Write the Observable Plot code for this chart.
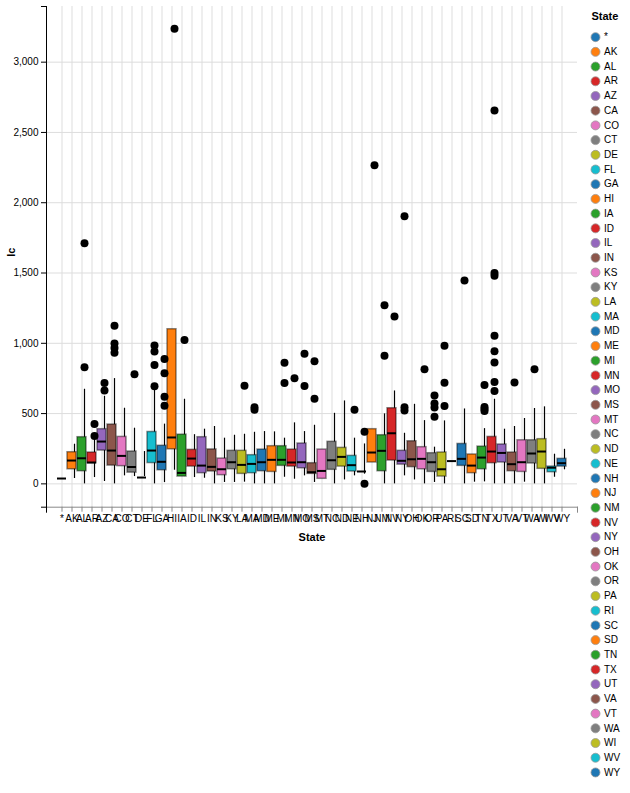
<!DOCTYPE html>
<html><head><meta charset="utf-8">
<script src="https://cdn.jsdelivr.net/npm/d3@7"></script>
<script src="https://cdn.jsdelivr.net/npm/@observablehq/plot@0.6"></script>
<style>
body{margin:0;background:#fff;}
#wrap{position:relative;width:630px;height:793px;font-family:"Liberation Sans",Arial,sans-serif;}
#wrap svg{position:absolute;top:0;}
</style></head><body><div id="wrap"></div>
<script>
const states = ["*","AK","AL","AR","AZ","CA","CO","CT","DE","FL","GA","HI","IA","ID","IL","IN","KS","KY","LA","MA","MD","ME","MI","MN","MO","MS","MT","NC","ND","NE","NH","NJ","NM","NV","NY","OH","OK","OR","PA","RI","SC","SD","TN","TX","UT","VA","VT","WA","WI","WV","WY"];
const q1     = [38,104,90,147,237,130,126,80,45,148,97,246,52,123,76,88,62,104,71,76,90,85,128,123,111,71,36,100,123,88,88,152,90,166,137,119,104,85,52,162,128,76,104,147,152,90,85,145,107,83,123];
const median = [38,166,182,152,301,237,199,120,45,237,157,330,78,180,130,121,104,154,135,142,154,171,171,152,154,83,92,168,192,133,88,223,235,360,164,175,178,154,104,162,178,130,187,230,220,140,154,216,230,115,147];
const q3     = [38,225,332,223,389,422,334,230,45,369,271,1100,350,242,332,245,180,235,235,204,244,268,268,244,287,147,244,299,256,199,88,389,346,538,235,303,261,218,223,162,284,209,265,334,280,223,310,310,318,123,178];
const whiskerLow  = [38,0,45,17,0,57,52,52,0,9,97,52,45,40,0,10,10,12,0,0,0,47,33,57,10,52,0,28,57,69,88,0,0,57,28,0,10,0,104,null,0,12,14,0,0,0,12,0,0,47,100];
const whiskerHigh = [282,673,332,623,749,538,396,230,673,425,271,602,350,389,408,325,346,353,367,372,370,325,434,372,417,199,502,590,325,284,88,498,661,360,566,450,261,448,104,null,533,209,393,602,389,408,465,536,548,211,246];
const outlierState = ["AK","AK","AL","AL","AR","AR","AZ","AZ","AZ","AZ","CO","DE","DE","DE","DE","FL","FL","FL","FL","GA","HI","KY","LA","LA","ME","ME","MI","MN","MN","MO","MO","ND","NE","NE","NH","NJ","NJ","NM","NV","NV","NV","OH","OK","OK","OK","OK","OR","OR","OR","SC","TN","TN","TN","TN","TX","TX","TX","TX","TX","TX","TX","TX","VA","WA"];
const outlierValue = [830,1712,426,340,717,665,1124,998,966,933,780,985,942,846,695,888,787,620,555,3237,1024,698,545,527,862,718,752,925,696,873,606,528,370,0,2266,1270,912,1190,1903,545,522,816,629,572,544,477,983,719,554,1447,703,547,533,518,661,725,863,944,1054,1480,1500,2656,721,815];
const yTicks = [0,500,1000,1500,2000,2500,3000];
const yDomain = [-166,3396];

const boxes = states.map((s,i)=>({state:s,q1:q1[i],median:median[i],q3:q3[i]}));
const whiskers = states.map((s,i)=>({state:s,lo:whiskerLow[i],hi:whiskerHigh[i]})).filter(d=>d.lo!=null);
const outliers = outlierState.map((s,i)=>({state:s,value:outlierValue[i]}));

const FONT = '"Liberation Sans",Arial,sans-serif';
const W=630,H=560;
const base = {width:W,height:H,marginLeft:46,marginRight:53,marginTop:6,marginBottom:53.3,
  style:{background:"transparent",fontFamily:FONT,fontSize:"10px",overflow:"visible"}};
const yScale = {domain:yDomain};
const xBand = {type:"band",domain:states,paddingInner:0.15,paddingOuter:1.104,align:0.5};
const xPoint = {type:"point",domain:whiskers.map(d=>d.state),padding:1.09,align:0.695};
const color = {type:"ordinal",domain:states,range:d3.schemeCategory10};
const fmt = d3.format(",");
const wrap = document.getElementById("wrap");
const add = (svg,left=0)=>{svg.style.left=left+"px";wrap.appendChild(svg);};

// layer 1: grid & axes
add(Plot.plot({...base,
  x:{...xBand},
  y:{...yScale},
  marks:[
    Plot.gridX({stroke:"#ddd",strokeOpacity:1}),
    Plot.gridY(yTicks,{stroke:"#ddd",strokeOpacity:1}),
    Plot.axisY([...yTicks,...yDomain],{tickSize:5,tickPadding:3,tickFormat:d=>yTicks.includes(d)?fmt(d):"",label:null,fill:"#000"}),
    Plot.axisX({tickSize:5,tickPadding:3,label:null,stroke:"#888",fill:"#000"}),
    Plot.frame({anchor:"bottom",stroke:"#888"}),
    Plot.frame({anchor:"right",stroke:"#888",insetTop:H-6-53.3,insetBottom:-5}),
    Plot.frame({anchor:"left",stroke:"#000",insetBottom:-5}),
    Plot.text(["lc"],{frameAnchor:"left",dx:-35,rotate:-90,fontWeight:"bold",fontSize:11}),
    Plot.text(["State"],{frameAnchor:"bottom",dy:33.5,fontWeight:"bold",fontSize:11})
  ]}));

// layer 2: whiskers
add(Plot.plot({...base,
  x:{...xPoint,axis:null},
  y:{...yScale,axis:null},
  marks:[Plot.ruleX(whiskers,{x:"state",y1:"lo",y2:"hi",stroke:"#000",strokeWidth:1.2})]}));

// layer 3: boxes & medians
add(Plot.plot({...base,
  x:{...xBand,axis:null},
  y:{...yScale,axis:null},
  color,
  marks:[
    Plot.barY(boxes,{x:"state",y1:"q1",y2:"q3",fill:"state",stroke:"#000",strokeOpacity:0.45,strokeWidth:1.5}),
    Plot.tickY(boxes,{x:"state",y:"median",stroke:"#000",strokeWidth:2})
  ]}));

// layer 4: outliers
add(Plot.plot({...base,
  x:{...xPoint,axis:null},
  y:{...yScale,axis:null},
  marks:[Plot.dot(outliers,{x:"state",y:"value",r:4,fill:"#000"})]}));

// legend
add(Plot.plot({width:50,height:793,marginLeft:15,marginRight:0,marginTop:0,marginBottom:0,
  style:{background:"transparent",fontFamily:FONT,fontSize:"10px",overflow:"visible"},
  x:{axis:null},
  y:{type:"point",domain:states,range:[29.3,779.3],axis:null},
  color,
  marks:[
    Plot.dot(states,{y:d=>d,fill:d=>d,r:4.5,stroke:"#999",strokeWidth:0.8,frameAnchor:"left"}),
    Plot.text(states,{y:d=>d,text:d=>d,frameAnchor:"left",dx:8.5,textAnchor:"start",fill:"#000"}),
    Plot.text(["State"],{frameAnchor:"top-left",dx:-4,dy:12,fontWeight:"bold",fontSize:11,textAnchor:"start"})
  ]}),580);
</script></body></html>
